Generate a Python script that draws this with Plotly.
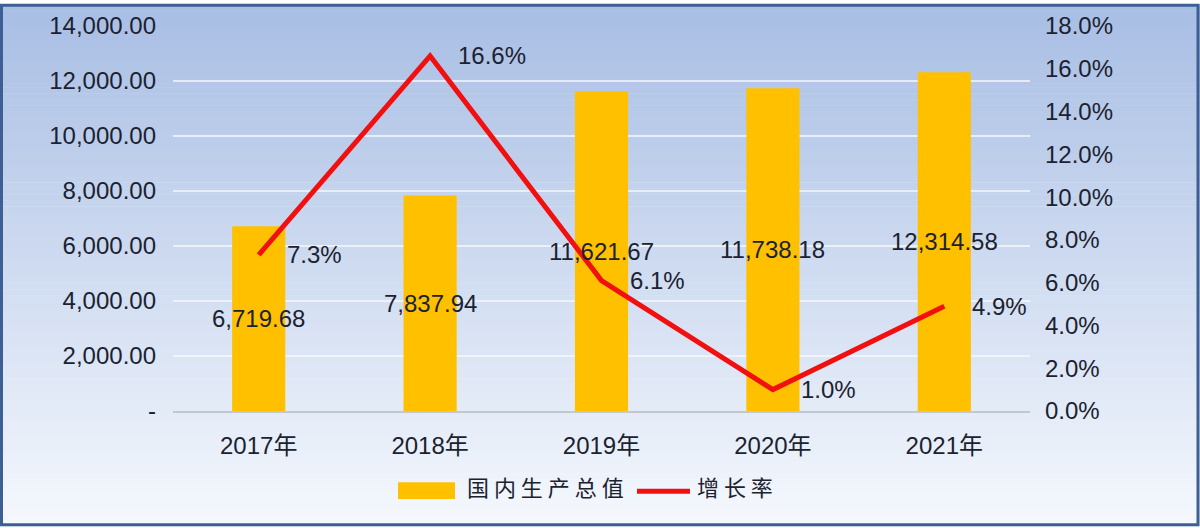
import plotly.graph_objects as go

# data
years = ["2017年", "2018年", "2019年", "2020年", "2021年"]
gdp = [6719.68, 7837.94, 11621.67, 11738.18, 12314.58]
growth = [0.073, 0.166, 0.061, 0.010, 0.049]

left_ticks = [0, 2000, 4000, 6000, 8000, 10000, 12000, 14000]
left_labels = ["-"] + [f"{v:,.2f}" for v in left_ticks[1:]]

bar_name = "国内生产总值"
line_name = "增长率"

W, H = 1200, 528
ML, MR, MT, MB = 173, 170, 22, 117
PW, PH = W - ML - MR, H - MT - MB

FONT = "Liberation Sans, Arial, Noto Sans CJK SC, sans-serif"
TXT = "#1b2230"


def px(x):
    return (x - ML) / PW


def py(y):
    return (H - MB - y) / PH


fig = go.Figure()

fig.add_trace(go.Bar(
    x=years, y=gdp, name=bar_name,
    marker=dict(color="#FFC000", line_width=0),
    width=0.31, hoverinfo="x+y",
))

fig.add_trace(go.Scatter(
    x=years, y=growth, name=line_name, yaxis="y2",
    mode="lines", line=dict(color="#F20F0F", width=5),
))

annotations = []
for yr, v in zip(years, gdp):
    annotations.append(dict(x=yr, y=v / 2, xref="x", yref="y", text=f"{v:,.2f}",
                            showarrow=False, font=dict(size=24, color=TXT, family=FONT)))
for yr, g in zip(years, growth):
    annotations.append(dict(x=yr, y=g, xref="x", yref="y2", text=f"{g:.1%}",
                            xanchor="left", xshift=26, showarrow=False,
                            font=dict(size=24, color=TXT, family=FONT)))

# hand-made legend to get Excel-like swatches
annotations.append(dict(x=px(465), y=py(492), xref="paper", yref="paper",
                        text=" ".join(bar_name), xanchor="left", yshift=-13,
                        showarrow=False,
                        font=dict(size=22, color=TXT, family="Noto Sans CJK SC")))
annotations.append(dict(x=px(695), y=py(492), xref="paper", yref="paper",
                        text=" ".join(line_name), xanchor="left", yshift=-13,
                        showarrow=False,
                        font=dict(size=22, color=TXT, family="Noto Sans CJK SC")))

shapes = []
# vertical gradient background
n = 88
top, bot = (168, 190, 228), (245, 248, 253)
for i in range(n):
    t = i / (n - 1)
    c = tuple(round(a + (b - a) * t) for a, b in zip(top, bot))
    y0 = i * H / n
    shapes.append(dict(type="rect", xref="paper", yref="paper",
                       x0=px(0), x1=px(W), y0=py(y0 + H / n + 0.5), y1=py(y0),
                       fillcolor=f"rgb{c}", line_width=0, layer="below"))
shapes.append(dict(type="rect", xref="paper", yref="paper",
                   x0=px(398), x1=px(455), y0=py(500), y1=py(483),
                   fillcolor="#FFC000", line_width=0))
shapes.append(dict(type="line", xref="paper", yref="paper",
                   x0=px(637), x1=px(690), y0=py(492), y1=py(492),
                   line=dict(color="#F20F0F", width=5)))
# outer frame
shapes.append(dict(type="rect", xref="paper", yref="paper",
                   x0=px(1.5), x1=px(W - 2), y0=py(H - 2), y1=py(1),
                   line=dict(color="#3d5f94", width=3)))

fig.update_layout(
    width=W, height=H,
    margin=dict(l=ML, r=MR, t=MT, b=MB),
    paper_bgcolor="white",
    plot_bgcolor="rgba(0,0,0,0)",
    showlegend=False,
    font=dict(family=FONT, size=24, color=TXT),
    xaxis=dict(type="category", showgrid=False, showline=True, linecolor="#c3c7cf",
               linewidth=1.5, ticks="", tickfont=dict(size=24, color=TXT),
               ticklabelstandoff=12),
    yaxis=dict(range=[0, 14000], tickvals=left_ticks, ticktext=left_labels,
               showgrid=True, gridcolor="rgba(245,248,252,0.75)", gridwidth=1.5,
               zeroline=False, tickfont=dict(size=24, color=TXT),
               ticklabelstandoff=16),
    yaxis2=dict(range=[0, 0.18], dtick=0.02, tickformat=".1%", overlaying="y",
                side="right", showgrid=False, zeroline=False,
                tickfont=dict(size=24, color=TXT), ticklabelstandoff=14),
    annotations=annotations,
    shapes=shapes,
)

fig.write_html("out.html", config={"displayModeBar": False},
               post_script="document.body.style.margin='0';document.body.style.overflow='hidden';")
